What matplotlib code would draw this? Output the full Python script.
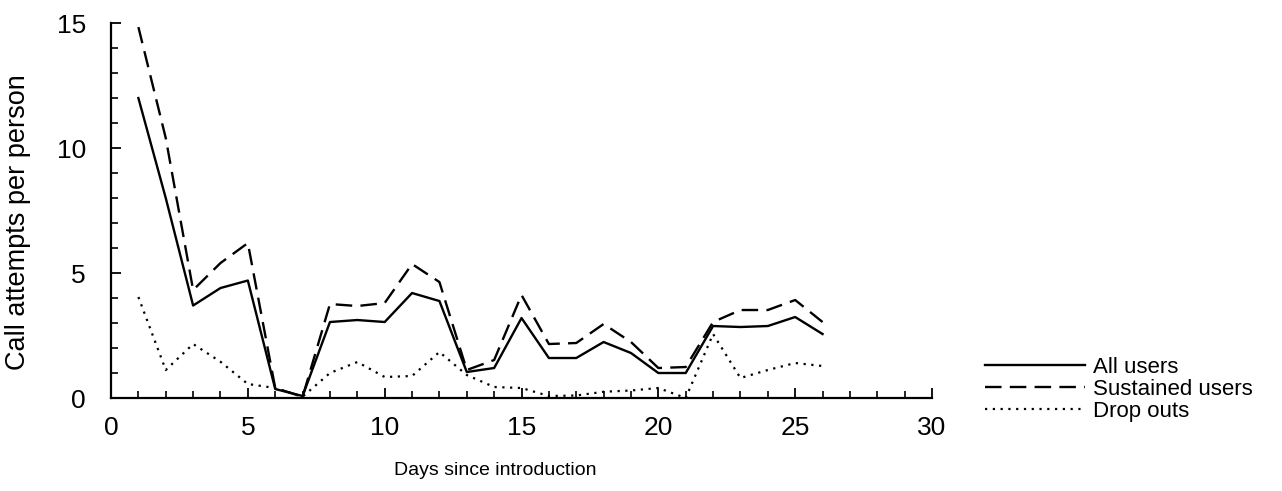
import matplotlib.pyplot as plt
from matplotlib.ticker import MultipleLocator

# days since introduction
days = list(range(1, 27))

all_users = [12.0, 8.0, 3.7, 4.4, 4.7, 0.36, 0.08, 3.04, 3.12, 3.04,
             4.2, 3.88, 1.04, 1.2, 3.2, 1.6, 1.6, 2.24, 1.8, 1.0,
             1.0, 2.88, 2.84, 2.88, 3.24, 2.56]
sustained = [14.84, 10.4, 4.32, 5.4, 6.2, 0.4, 0.05, 3.76, 3.68, 3.8,
             5.36, 4.64, 1.12, 1.52, 4.12, 2.16, 2.2, 2.96, 2.24, 1.2,
             1.24, 3.04, 3.52, 3.52, 3.92, 3.04]
drop_outs = [4.04, 1.12, 2.16, 1.45, 0.56, 0.4, 0.05, 1.0, 1.44, 0.84,
             0.88, 1.84, 0.92, 0.44, 0.4, 0.08, 0.1, 0.25, 0.3, 0.4,
             0.0, 2.56, 0.8, 1.12, 1.4, 1.28]

plt.rcParams['font.family'] = ['Liberation Sans', 'DejaVu Sans']

fig = plt.figure(figsize=(12.82, 4.91), dpi=100)
ax = fig.add_axes([0.0866, 0.1894, 0.6404, 0.7636])

ax.plot(days, all_users, color='k', lw=1.7, linestyle='-', label='All users')
ax.plot(days, sustained, color='k', lw=1.7, linestyle=(0, (7, 3.5)),
        label='Sustained users')
ax.plot(days, drop_outs, color='k', lw=1.6, linestyle=(0, (1, 2.5)),
        label='Drop outs')

ax.set_xlim(0, 30)
ax.set_ylim(0, 15)

ax.spines['top'].set_visible(False)
ax.spines['right'].set_visible(False)
ax.spines['left'].set_linewidth(1.6)
ax.spines['bottom'].set_linewidth(1.6)

ax.xaxis.set_major_locator(MultipleLocator(5))
ax.xaxis.set_minor_locator(MultipleLocator(1))
ax.yaxis.set_major_locator(MultipleLocator(5))
ax.yaxis.set_minor_locator(MultipleLocator(1))
ax.tick_params(which='major', direction='in', length=7, width=1.3,
               labelsize=19)
ax.tick_params(axis='x', which='major', pad=13)
ax.tick_params(axis='y', which='major', pad=18)
ax.tick_params(which='minor', direction='in', length=5, width=1.2)

ax.set_xlabel('Days since introduction', fontsize=14)
ax.xaxis.set_label_coords(0.468, -0.172)
ax.set_ylabel('Call attempts per person', fontsize=19.5)
ax.yaxis.set_label_coords(-0.097, 0.47)

ax.legend(loc='upper left', bbox_to_anchor=(1.065, 0.11), frameon=False,
          fontsize=16, handlelength=4.5, handletextpad=0.35,
          labelspacing=0.05, borderpad=0, borderaxespad=0)

fig.savefig('out.png', dpi=100)
